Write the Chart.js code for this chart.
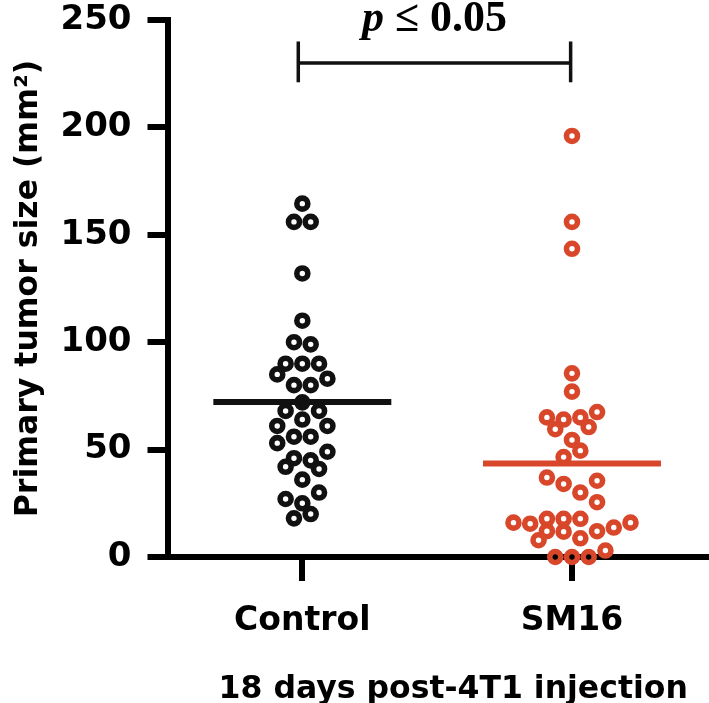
<!DOCTYPE html>
<html><head><meta charset="utf-8">
<script src="https://cdn.jsdelivr.net/npm/chart.js@4/dist/chart.umd.min.js"></script>
<style>html,body{margin:0;padding:0;background:#fff;overflow:hidden}#wrap{width:709px;height:703px;overflow:hidden;position:relative}canvas{display:block}</style>
</head><body><div id="wrap"><canvas id="c" width="750" height="703"></canvas></div>
<script>
// ---- data ----
const categories = ['Control', 'SM16'];
const controlValues = [164.5,156,156,132,110,100,99,90,90,90,85,83,80,80,72,68,68,64,61,61,56,56,53,49,46,45,42,41,36,30,27,25,20,18];
const controlSlots  = [0,-1,1,0,0,-1,1,-2,0,2,-3,3,-1,1,0,-2,2,0,-3,3,-1,1,-3,3,-1,1,-2,2,0,2,-2,0,1,-1];
const sm16Values = [196,156,143.5,85.5,77,65,64,65,67.5,59.5,60.5,54.5,49.5,46.5,37,34,35.5,30,25.5,16,15.5,17.8,17.8,17.8,16,12,11.8,12,13.7,7.8,8.7,0,0,0,3];
const sm16Slots  = [0,0,0,0,0,-3,-1,1,3,-2,2,0,1,-1,-3,-1,3,1,3,-7,-5,-3,-1,1,7,-3,-1,3,5,-4,1,-2,0,2,4];
const yTicks = [0, 50, 100, 150, 200, 250];
const yTitle = 'Primary tumor size (mm²)';
const xTitle = '18 days post-4T1 injection';
const sigLabel = ['p', ' ≤ 0.05'];
const bracketEnds = [0.985, 1.995];
const bracketLevels = [221, 230, 240];

// ---- styling / layout ----
const SLOT = 0.031;       // horizontal spread unit (x-axis units)
const HALF_MEAN = 0.33;   // half-length of mean bar (x-axis units)
const BLACK = '#111';
const RED = '#d9472b';

const mean = a => a.reduce((s, v) => s + v, 0) / a.length;
const toPts = (vals, slots, c) => vals.map((v, i) => ({x: c + slots[i] * SLOT, y: v}));

const tickFont = {family: 'DejaVu Sans', weight: 'bold', size: 34};
const xTickFont = {family: 'DejaVu Sans', weight: 'bold', size: 33};
const titleFont = {family: 'DejaVu Sans', weight: 'bold', size: 31.5, lineHeight: 1};

const pointStyle = color => ({
  type: 'scatter', pointRadius: 5.5, pointHoverRadius: 5.5, pointBorderWidth: 5.6,
  pointBorderColor: color, pointBackgroundColor: 'rgba(0,0,0,0)', borderColor: color,
  backgroundColor: 'rgba(0,0,0,0)', clip: false, order: 0
});
const lineStyle = (color, w) => ({
  type: 'line', borderColor: color, borderWidth: w, pointRadius: 0, pointHoverRadius: 0,
  showLine: true, fill: false, clip: false, borderCapStyle: 'butt', order: 1
});

const mC = mean(controlValues), mS = mean(sm16Values);

const sigPlugin = {
  id: 'sig',
  afterDraw(chart) {
    const {ctx, scales: {x, y}} = chart;
    const cx = x.getPixelForValue((bracketEnds[0] + bracketEnds[1]) / 2);
    const base = y.getPixelForValue(yTicks[yTicks.length - 1]) + 11;
    ctx.save();
    ctx.fillStyle = '#000';
    ctx.textBaseline = 'alphabetic';
    const f1 = 'italic bold 44px "Liberation Serif", serif';
    const f2 = 'bold 44px "Liberation Serif", serif';
    ctx.font = f1; const w1 = ctx.measureText(sigLabel[0]).width;
    ctx.font = f2; const w2 = ctx.measureText(sigLabel[1]).width;
    const sx = cx - (w1 + w2) / 2;
    ctx.font = f1; ctx.fillText(sigLabel[0], sx, base);
    ctx.font = f2; ctx.fillText(sigLabel[1], sx + w1, base);
    ctx.restore();
  }
};

new Chart(document.getElementById('c'), {
  type: 'scatter',
  data: {
    datasets: [
      Object.assign({label: categories[0], data: toPts(controlValues, controlSlots, 1)}, pointStyle(BLACK)),
      Object.assign({label: categories[1], data: toPts(sm16Values, sm16Slots, 2)}, pointStyle(RED)),
      Object.assign({label: 'mean ' + categories[0], data: [{x: 1 - HALF_MEAN, y: mC}, {x: 1 + HALF_MEAN, y: mC}]}, lineStyle(BLACK, 6)),
      Object.assign({label: 'mean ' + categories[1], data: [{x: 2 - HALF_MEAN, y: mS}, {x: 2 + HALF_MEAN, y: mS}]}, lineStyle(RED, 6)),
      Object.assign({label: 'bracket', data: [{x: bracketEnds[0], y: bracketLevels[1]}, {x: bracketEnds[1], y: bracketLevels[1]}]}, lineStyle(BLACK, 3.5)),
      Object.assign({label: 'bracketL', data: [{x: bracketEnds[0], y: bracketLevels[0]}, {x: bracketEnds[0], y: bracketLevels[2]}]}, lineStyle(BLACK, 3.5)),
      Object.assign({label: 'bracketR', data: [{x: bracketEnds[1], y: bracketLevels[0]}, {x: bracketEnds[1], y: bracketLevels[2]}]}, lineStyle(BLACK, 3.5))
    ]
  },
  options: {
    responsive: false, animation: false, devicePixelRatio: 1,
    layout: {padding: {top: 20, right: 0, bottom: 0, left: 0}},
    plugins: {legend: {display: false}, tooltip: {enabled: false}},
    events: [],
    scales: {
      x: {
        type: 'linear', min: 0.5, max: 2.619,
        afterBuildTicks: s => { s.ticks = categories.map((_, i) => ({value: i + 1})); },
        afterFit: s => { s.height = 146; s.paddingLeft = 0; s.paddingRight = 0; },
        ticks: {callback: v => categories[v - 1] ?? '', font: xTickFont, color: '#000', padding: 21, maxRotation: 0, autoSkip: false},
        grid: {display: true, drawOnChartArea: false, drawTicks: true, tickLength: 24, tickWidth: 6, tickColor: '#000', lineWidth: 6, color: '#000'},
        border: {display: true, width: 6, color: '#000'},
        title: {display: true, text: xTitle, font: titleFont, color: '#000', padding: {top: 0, bottom: -3}}
      },
      y: {
        type: 'linear', min: yTicks[0], max: yTicks[yTicks.length - 1],
        afterBuildTicks: s => { s.ticks = yTicks.map(v => ({value: v})); },
        afterFit: s => { s.width = 167.5; s.paddingTop = 0; s.paddingBottom = 0; },
        ticks: {font: tickFont, color: '#000', padding: 16},
        grid: {display: true, drawOnChartArea: false, drawTicks: true, tickLength: 20, tickWidth: 6, tickColor: '#000', lineWidth: 6, color: '#000'},
        border: {display: true, width: 6, color: '#000'},
        title: {display: true, text: yTitle, font: titleFont, color: '#000', padding: {top: 13.5, bottom: 0}}
      }
    }
  },
  plugins: [sigPlugin]
});
</script></body></html>
